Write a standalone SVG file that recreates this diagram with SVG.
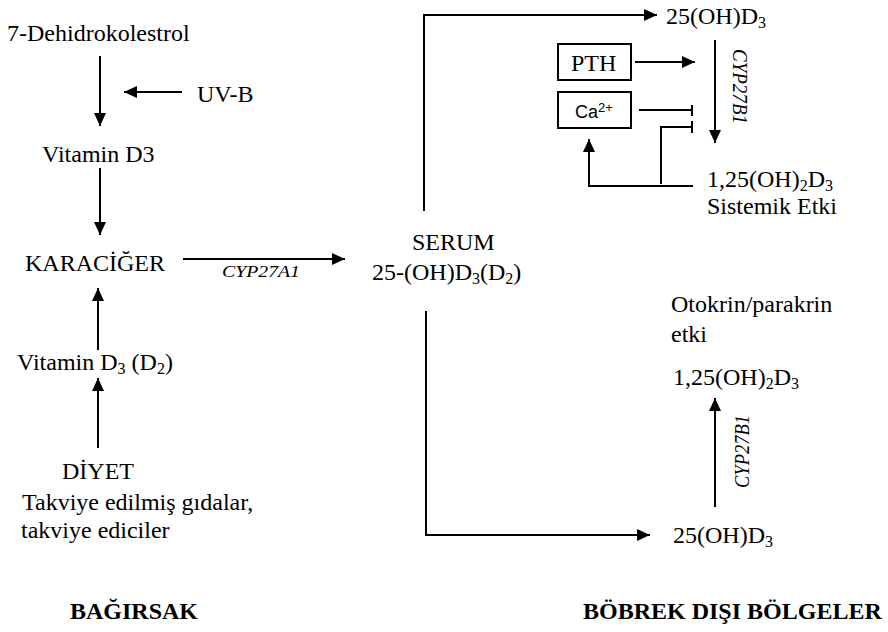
<svg xmlns="http://www.w3.org/2000/svg" width="888" height="632" viewBox="0 0 888 632">
<defs>
<style>
.it{font-style:italic}
.b{font-weight:bold}
.c line,.c polyline{stroke:#000;stroke-width:2;fill:none}
.arr{marker-end:url(#ah)}
</style>
<marker id="ah" markerWidth="13" markerHeight="12" refX="13" refY="6" orient="auto" markerUnits="userSpaceOnUse"><path d="M0,0 L13,6 L0,12 z" fill="#000"/></marker>
</defs>
<rect width="888" height="632" fill="#fff"/>
<g font-family="'Liberation Serif', 'Times New Roman', serif" font-size="24" fill="#000">
<g id="dehidro"><text x="7" y="41">7-Dehidrokolestrol</text></g>
<g id="uvb"><text x="197" y="102">UV-B</text></g>
<g id="vitd3"><text x="42" y="162">Vitamin D3</text></g>
<g id="karaciger"><text x="25" y="271">KARACİĞER</text></g>
<g id="cyp27a1"><text class="it" x="222" y="277" font-size="16" textLength="78" lengthAdjust="spacingAndGlyphs">CYP27A1</text></g>
<g id="serum"><text x="412" y="250">SERUM</text><text x="372" y="280">25-(OH)D<tspan font-size="16" dy="4">3</tspan><tspan dy="-4">(D</tspan><tspan font-size="16" dy="4">2</tspan><tspan dy="-4">)</tspan></text></g>
<g id="vitd3d2"><text x="17" y="370">Vitamin D<tspan font-size="16" dy="4">3</tspan><tspan dy="-4"> (D</tspan><tspan font-size="16" dy="4">2</tspan><tspan dy="-4">)</tspan></text></g>
<g id="diyet"><text x="62" y="479">DİYET</text><text x="22" y="510">Takviye edilmiş gıdalar,</text><text x="21" y="538">takviye ediciler</text></g>
<g id="oh25top"><text x="666" y="24">25(OH)D<tspan font-size="16" dy="4">3</tspan></text></g>
<g id="pth"><rect x="558" y="44" width="73" height="36" fill="none" stroke="#000" stroke-width="2"/><text x="571" y="71">PTH</text></g>
<g id="ca"><rect x="558" y="92" width="73" height="36" fill="none" stroke="#000" stroke-width="2"/><text font-family="'Liberation Sans', Arial, sans-serif" x="575" y="118" font-size="18">Ca<tspan font-size="13" dy="-6">2+</tspan></text></g>
<g id="cyp27b1top"><text class="it" font-size="21" textLength="75" lengthAdjust="spacingAndGlyphs" transform="translate(733,49) rotate(90)" x="0" y="0">CYP27B1</text></g>
<g id="oh125sys"><text x="707" y="187">1,25(OH)<tspan font-size="16" dy="4">2</tspan><tspan dy="-4">D</tspan><tspan font-size="16" dy="4">3</tspan></text><text x="707" y="214">Sistemik Etki</text></g>
<g id="otokrin"><text x="671" y="312">Otokrin/parakrin</text><text x="671" y="342">etki</text></g>
<g id="oh125loc"><text x="673" y="385">1,25(OH)<tspan font-size="16" dy="4">2</tspan><tspan dy="-4">D</tspan><tspan font-size="16" dy="4">3</tspan></text></g>
<g id="cyp27b1bot"><text class="it" font-size="21" textLength="73" lengthAdjust="spacingAndGlyphs" transform="translate(749,488) rotate(-90)" x="0" y="0">CYP27B1</text></g>
<g id="oh25bot"><text x="673" y="543">25(OH)D<tspan font-size="16" dy="4">3</tspan></text></g>
<g id="bagirsak"><text class="b" x="70" y="619">BAĞIRSAK</text></g>
<g id="bobrek"><text class="b" x="583" y="619" font-size="24">BÖBREK DIŞI BÖLGELER</text></g>
</g>
<g id="connectors" class="c">
<line class="arr" x1="100" y1="56" x2="100" y2="126"/>
<line class="arr" x1="182" y1="92" x2="124" y2="92"/>
<line class="arr" x1="100" y1="168" x2="100" y2="235"/>
<line class="arr" x1="98" y1="350" x2="98" y2="288"/>
<line class="arr" x1="98" y1="448" x2="98" y2="378"/>
<line class="arr" x1="183" y1="259" x2="345" y2="259"/>
<polyline class="arr" points="424,211 424,15 657,15"/>
<polyline class="arr" points="426,311 426,535 650,535"/>
<line class="arr" x1="635" y1="62" x2="695" y2="62"/>
<line x1="639" y1="110" x2="692" y2="110"/>
<line x1="692" y1="105" x2="692" y2="116"/>
<polyline points="661,184 661,127 692,127"/>
<line x1="692" y1="121" x2="692" y2="133"/>
<polyline class="arr" points="693,186 589,186 589,139"/>
<line class="arr" x1="715" y1="40" x2="715" y2="143"/>
<line class="arr" x1="715" y1="507" x2="715" y2="398"/>
</g>
</svg>
